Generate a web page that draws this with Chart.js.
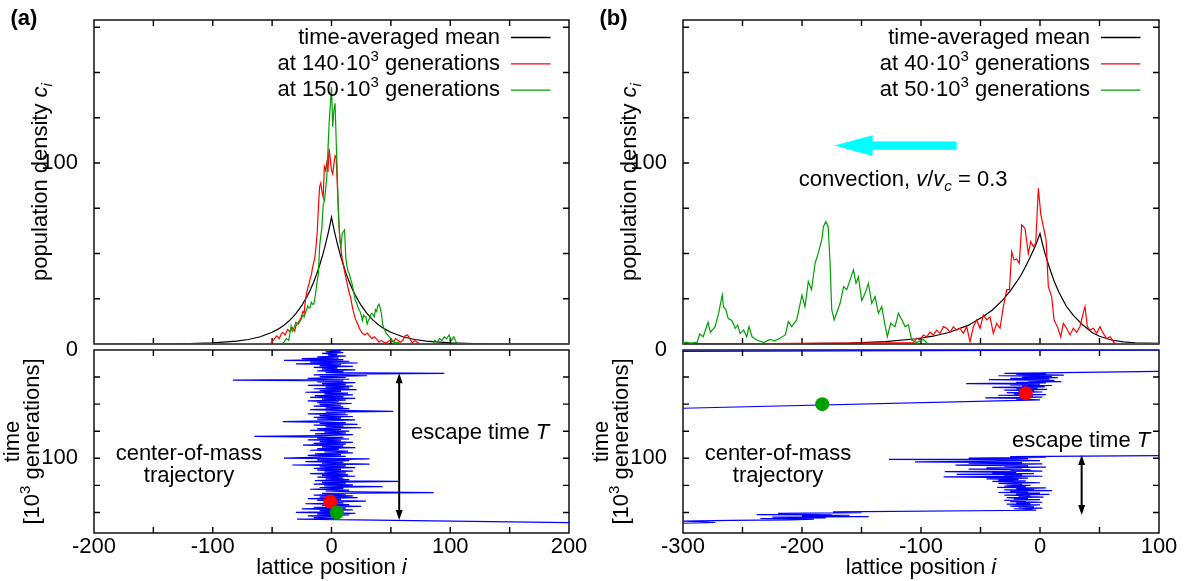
<!DOCTYPE html>
<html>
<head>
<meta charset="utf-8">
<script src="https://cdn.jsdelivr.net/npm/chart.js@4.4.0/dist/chart.umd.min.js"></script>
<style>
  body { margin: 0; background: #fff; width: 1187px; height: 581px; position: relative; overflow: hidden; }
  canvas { position: absolute; }
</style>
</head>
<body>
<canvas id="aTop" width="589" height="350" style="left:0px;top:0px"></canvas>
<canvas id="aBot" width="589" height="246" style="left:0px;top:335px"></canvas>
<canvas id="bTop" width="598" height="350" style="left:589px;top:0px"></canvas>
<canvas id="bBot" width="598" height="246" style="left:589px;top:335px"></canvas>
<script>
// ---- tick values / labels ----
const xTicksA = [-200, -150, -100, -50, 0, 50, 100, 150, 200]
const xLabelsA = [-200, -100, 0, 100, 200]
const xTicksB = [-300, -250, -200, -150, -100, -50, 0, 50, 100]
const xLabelsB = [-300, -200, -100, 0, 100]
const yTicksTop = [0, 25, 50, 75, 100, 125, 150, 175]
const yLabelsTop = [100]
const yTicksBot = [0, 25, 50, 75, 100, 125, 150]
const yLabelsBot = [0, 100]

// ---- panel (a), density profiles ----
const meanA_i = [-200, -150, -120, -100, -80, -70, -60, -50, -45, -40, -35, -30, -25, -20, -17.5, -15, -12.5, -10, -7.5, -5, -2.5, 0, 2.5, 5, 7.5, 10, 12.5, 15, 17.5, 20, 25, 30, 35, 40, 45, 50, 60, 70, 80, 100, 120, 150, 200]
const meanA_c = [0, 0.06, 0.23, 0.6, 1.6, 2.5, 4, 6.5, 8.2, 10.4, 13.2, 16.8, 21.3, 27, 30.4, 34.3, 38.6, 43.5, 49, 55.2, 62.1, 70, 62.1, 55.2, 49, 43.5, 38.6, 34.3, 30.4, 27, 21.3, 16.8, 13.2, 10.4, 8.2, 6.5, 4, 2.5, 1.6, 0.6, 0.23, 0.06, 0]

const redA_i = [-200, -52, -50, -48, -46, -44, -42, -41, -39, -37, -35, -33, -31, -30, -28, -26, -24, -23, -22, -21, -20, -19, -18, -17, -16, -15, -14, -13, -12, -11, -10, -9, -8, -7, -6, -5, -4, -3, -2, -1, 0, 1, 2, 3, 4, 5, 6, 7, 8, 9, 10, 11, 12, 13, 14, 15, 16, 18, 20, 22, 24, 26, 28, 30, 32, 34, 36, 38, 40, 42, 44, 46, 48, 50, 52, 54, 56, 58, 60, 62, 64, 66, 68, 70, 72, 75, 200]
const redA_c = [0, 0, 1, 3, 4.5, 3, 6, 6.4, 5, 8, 7, 9, 7, 10, 12, 14, 18, 17, 24, 28, 31, 33, 36, 38, 42, 45, 48, 54, 62, 76, 87, 89, 84, 81, 98, 96, 100, 95, 108, 102, 96, 94, 99, 104, 103, 86, 70, 58, 52, 47, 44, 40, 37, 34, 31, 28, 26, 19, 14, 11, 8, 6, 5, 6, 4.5, 3, 4, 2.7, 1, 2, 1, 0.5, 1.5, 2, 1, 3, 2, 1, 2, 4.5, 5, 3, 0.5, 2, 1, 0, 0]

const greenA_i = [-200, -42, -40, -38, -36, -34, -33, -32, -30, -28, -26, -24, -23, -22, -21, -20, -19, -18, -17, -16, -15, -14, -13, -12, -11, -10, -9, -8, -7, -6, -5, -4, -3, -2, -1, 0, 1, 2, 3, 4, 5, 6, 7, 8, 9, 10, 11, 12, 13, 14, 15, 16, 17, 18, 19, 20, 21, 22, 23, 24, 25, 26, 27, 28, 29, 30, 31, 32, 33, 34, 35, 36, 37, 38, 39, 40, 41, 42, 43, 44, 46, 48, 50, 52, 54, 56, 58, 85, 87, 89, 91, 93, 95, 97, 99, 101, 103, 105, 107, 200]
const greenA_c = [0, 0, 1, 3, 2, 10, 7, 8, 12, 11, 13, 16, 15, 17, 19, 21, 20, 20, 23, 22, 22, 25, 30, 35, 39, 54, 60, 65, 77, 79, 85, 92, 107, 122, 132, 142, 120, 129, 133, 111, 90, 70, 58, 54, 61, 62, 63, 48, 43, 40, 39, 36, 34, 31, 28, 24, 23, 21, 19, 18, 16, 13, 16, 15, 15, 11, 13, 14, 16, 17, 16, 15, 19, 18, 21, 22, 20, 17, 11, 9, 6, 4.5, 3, 1.5, 0.5, 1, 0, 0, 2, 1, 3, 2, 4, 3, 5, 2, 4, 1, 0, 0]

// ---- panel (b), density profiles ----
const meanB_i = [-300, -250, -200, -160, -130, -104, -90, -76, -60, -48, -40, -31, -25, -20, -16, -12, -8, -4, -2, 0, 2, 4, 8, 12, 16, 22, 28, 36, 44, 50, 60, 70, 80, 100]
const meanB_c = [0, 0.1, 0.2, 0.5, 1.3, 2.9, 4.3, 6.5, 10.4, 15, 18.8, 24.5, 29.3, 34, 38, 43, 48.3, 54, 57.5, 61, 55.5, 50.5, 42, 34.5, 28.5, 21, 15.8, 10.5, 6.2, 4.3, 2.2, 1.2, 0.7, 0.3]

const greenB_i = [-300, -298, -293, -288, -286, -283, -279, -277, -273, -270, -268, -267, -266, -264, -262, -259, -256, -254, -252, -249, -246.5, -244.5, -242, -238, -232, -227, -223, -218.5, -214, -211.5, -208.7, -204.5, -200, -197.5, -194.7, -192, -189, -186, -183.4, -182, -180, -178, -176.4, -175, -173, -171, -168, -165, -162.4, -159.6, -156.8, -154.6, -152.6, -149.8, -147, -144.2, -141.4, -138.6, -135.8, -133, -130, -128.3, -125.5, -121.8, -119, -116, -113.4, -110.6, -107.8, -103.6, -98, -94, 100]
const greenB_c = [0, 1, 0.5, 1, 5.5, 4, 12, 6.5, 9.6, 17, 24, 27, 20.6, 19, 14, 13, 8.7, 10.5, 5.9, 7.7, 4, 9.6, 4, 2.2, 0.8, 2.5, 1.8, 3.2, 5, 12.4, 9.6, 13.3, 27, 20.6, 34.5, 30, 44.6, 51, 57.5, 64.8, 67.6, 64.8, 44.6, 19, 13.3, 17, 22.5, 31.7, 30, 35.4, 41, 33.5, 37, 24, 28, 33.5, 22.5, 26.2, 17, 20.6, 9.6, 4, 11.4, 9.6, 17, 13.3, 9.6, 10.5, 2.2, 0.8, 2.5, 0, 0]

const redB_i = [-300, -106, -103.6, -100.8, -98, -95.2, -92.4, -89.6, -86.8, -84, -81.2, -78.4, -75.6, -72.8, -70, -67.2, -64.4, -61.6, -58.8, -56, -53.2, -50.4, -47.6, -44.8, -42, -39.2, -36.4, -33.6, -30.8, -28, -25.7, -23.8, -21.8, -19.6, -17.4, -15.4, -12.6, -9.8, -7.8, -5.6, -3.6, -1.4, 0.6, 2.8, 5.1, 7, 9.8, 11.8, 14.6, 17.4, 19.6, 22.4, 25.2, 28, 30.8, 33.6, 35.9, 37.8, 39.8, 42, 44.8, 47.6, 50.4, 53, 56, 59, 62, 65, 100]
const redB_c = [0, 0.8, 3.2, 2.2, 5, 4, 6.5, 5, 7.7, 5.9, 9.6, 8.7, 6.5, 9.6, 7.7, 8.7, 5.9, 9.6, 1.3, 9.6, 13.3, 8.7, 16, 13.3, 15, 5.9, 11.4, 8.7, 20.6, 30, 30, 51, 46.4, 47, 44.6, 65.8, 63.9, 50, 56.6, 53.8, 55.6, 86, 72, 64.8, 57.5, 31.7, 26.2, 13.3, 9.6, 4, 11.4, 8.7, 5, 8.7, 6.5, 9.6, 16, 20.6, 9.6, 7.7, 8.7, 5.9, 9.6, 6, 3, 4, 1, 0, 0]

// ---- center-of-mass trajectories (time in 10^3 generations) ----
const trajA_t = [0, 0.8, 1.6, 2.4, 3.2, 4, 4.8, 5.6, 6.4, 7.2, 8, 8.8, 9.6, 10.4, 11.2, 12, 12.8, 13.6, 14.4, 15.2, 16, 16.8, 17.6, 18.4, 19.2, 20, 20.8, 21.5, 22.2, 23, 23.8, 24.6, 25.4, 26.2, 27, 27.8, 28.6, 29.4, 30.2, 31, 31.8, 32.6, 33.4, 34.2, 35, 35.8, 36.6, 37.4, 38.2, 39, 39.8, 40.6, 41.4, 42.2, 43, 43.8, 44.6, 45.4, 46.2, 47, 47.8, 48.6, 49.4, 50.2, 51, 51.8, 52.6, 53.4, 54.2, 55, 55.8, 56.6, 57.4, 58.2, 59, 59.8, 60.6, 61.4, 62.2, 63, 63.8, 64.6, 65.4, 66.2, 67, 67.8, 68.6, 69.4, 70.2, 71, 71.8, 72.6, 73.4, 74.2, 75, 75.8, 76.6, 77.4, 78.2, 79, 79.8, 80.6, 81.4, 82.2, 83, 83.8, 84.6, 85.4, 86.2, 87, 87.8, 88.6, 89.4, 90.2, 91, 91.8, 92.6, 93.4, 94.2, 95, 95.8, 96.6, 97.4, 98.2, 99, 99.8, 100.6, 101.4, 102.2, 103, 103.8, 104.6, 105.4, 106.2, 107, 107.8, 108.6, 109.4, 110.2, 111, 111.8, 112.6, 113.4, 114.2, 115, 115.8, 116.6, 117.4, 118.2, 119, 119.8, 120.6, 121.4, 122.2, 123, 123.8, 124.6, 125.4, 126.2, 127, 127.8, 128.6, 129.4, 130.2, 131, 131.7, 132.4, 133.2, 134, 134.8, 135.6, 136.4, 137.2, 138, 138.8, 139.6, 140.4, 141.2, 142, 142.8, 143.6, 144.4, 145.2, 146, 146.8, 147.6, 148.4, 149.2, 150, 150.8, 151.6, 152.4, 153.2, 154, 154.8, 155.6, 156.2, 159.5]
const trajA_i = [0, 8, -5, 10, -8, 5, -3, 12, -12, 6, -25, 10, -40, 15, -18, 22, -30, 8, -10, 18, -15, 5, -8, 20, -12, 10, -5, 95, 5, -15, 30, -10, 12, -20, 15, -83, 10, -12, 20, -8, 12, -20, 18, -5, 15, -15, 21, -10, 8, -22, 14, -6, 18, -14, 10, -18, 20, -8, 12, -20, 6, -12, 17, -10, 8, -15, 10, -5, 15, -18, 5, 52, -5, 12, -20, 14, -10, 18, -15, 8, -12, 20, -8, -41, 12, -10, 22, -15, 10, -5, 25, -12, 8, -18, 15, -6, 12, -14, 18, -8, -65, 10, -12, 15, -20, 8, -10, 18, -15, 12, -24, 10, -8, 20, -12, 6, -18, 14, -6, 18, -14, 8, -20, 12, -10, -40, 32, -12, 15, -22, 10, -8, 32, -33, 12, -10, 20, -15, 8, -12, 18, -6, 12, -18, 14, -8, 20, -12, 10, -5, 15, -14, 56, -8, 12, -15, 18, -6, 43, -10, 10, -18, 15, -5, 20, 86, -8, 12, -15, 18, -10, 22, -20, 8, -12, 29, -5, 10, -22, 15, -8, 25, -15, 12, -25, 18, -10, 10, -30, 20, -12, 15, -20, 8, -15, 5, -29, 200]

const trajB0_t = [0, 1.2]
const trajB0_i = [100, -300]
const trajB1_t = [19.8, 21.5, 22, 22.6, 23.2, 23.8, 24.4, 25, 25.6, 26.2, 26.8, 27.4, 28, 28.6, 29.2, 29.8, 30.4, 31, 31.6, 32.2, 32.8, 33.4, 34, 34.6, 35.2, 35.8, 36.4, 37, 37.6, 38.2, 38.8, 39.4, 40, 40.6, 41.2, 41.8, 42.4, 43, 43.6, 44.2, 44.8, 45.4, 46, 53.8]
const trajB1_i = [100, -30, 5, -20, 20, -35, 10, -15, 15, -25, 8, -43, 12, -10, 18, -20, 5, -62, 0, -25, 10, -15, 4, -40, -2, -20, 6, -30, -5, -18, 2, -28, -8, -22, 5, -35, -6, -16, 2, -46, -10, -20, 0, -300]
const trajB2_t = [97.5, 98.5, 99.2, 99.8, 100.4, 101, 101.6, 102.2, 102.8, 103.4, 104, 104.6, 105.2, 105.8, 106.4, 107, 107.6, 108.2, 108.8, 109.4, 110, 110.6, 111.2, 111.8, 112.4, 113, 113.6, 114.2, 114.8, 115.4, 116, 116.6, 117.2, 117.8, 118.4, 119, 119.6, 120.2, 120.8, 121.4, 122, 122.6, 123.2, 123.8, 124.4, 125, 125.6, 126.2, 126.8, 127.4, 128, 128.6, 129.2, 129.8, 130.4, 131, 131.6, 132.2, 132.8, 133.4, 134, 134.6, 135.2, 135.8, 136.4, 137, 137.6, 138.2, 138.8, 139.4, 140, 140.6, 141.2, 141.8, 142.4, 143, 143.6, 144.2, 144.8, 145.4, 146, 146.6, 147.2, 148, 149.5, 150.2, 150.8, 151.4, 152, 152.6, 153.2, 153.8, 154.4, 155, 155.6, 156.2, 156.8, 157.4, 158, 158.6, 159.3, 160]
const trajB2_i = [100, -25, 5, -60, -10, -127, -20, 0, -50, -105, -15, -60, 2, -35, -71, -10, -30, 5, -45, -15, -60, -8, -25, 2, -80, -20, -40, -5, -70, -15, -30, 2, -81, -25, -10, -45, -18, -35, -12, -40, -20, 0, -35, -15, -28, -8, -30, -12, -36, 5, -20, -5, -30, 10, -25, -10, -35, 0, -20, 8, -30, -8, -18, 3, -28, -10, -22, 0, -30, -12, -25, 2, -20, -8, -28, 0, -15, -25, -5, -18, 2, -22, -10, -3, -174, -150, -220, -175, -238, -160, -200, -144, -225, -180, -235, -190, -210, -260, -300, -285, -273, -300]

// snapshot markers on the trajectories
const dotsA_i = [-1, 4.5]
const dotsA_t = [140, 150]
const dotsB_i = [-12, -183]
const dotsB_t = [40, 50]

const FONT = '"Liberation Sans", Arial, Helvetica, sans-serif'
const RED = "#ff0000"
const GREEN = "#00a000"
const BLUE = "#0000ff"
const CYAN = "#00ffff"

Chart.defaults.font.family = FONT
Chart.defaults.font.size = 22
Chart.defaults.color = "#000"

function pts(xs, ys) {
  return xs.map((x, k) => ({ x: x, y: ys[k] }))
}

function line(data, color) {
  return { data: data, borderColor: color, borderWidth: 1.2, pointRadius: 0, showLine: true, fill: false, tension: 0 }
}

function dot(x, y, color) {
  return { data: [{ x: x, y: y }], backgroundColor: color, borderWidth: 0, pointRadius: 7, showLine: false }
}

function setFont(ctx, size, italic, bold) {
  ctx.font = (italic ? "italic " : "") + (bold ? "bold " : "") + size + "px " + FONT
}

// parts: "text" or ["text", flags]; flags: i = italic, s = subscript, u = superscript
function rich(ctx, parts, x, y, align) {
  const pieces = parts.map((p) => {
    const t = typeof p === "string" ? p : p[0]
    const f = typeof p === "string" ? "" : p[1]
    const size = f.includes("s") || f.includes("u") ? 15 : 22
    setFont(ctx, size, f.includes("i"))
    return { t: t, f: f, size: size, w: ctx.measureText(t).width }
  })
  const total = pieces.reduce((s, p) => s + p.w, 0)
  let cx = align === "center" ? x - total / 2 : align === "right" ? x - total : x
  ctx.fillStyle = "#000"
  ctx.textAlign = "left"
  ctx.textBaseline = "alphabetic"
  pieces.forEach((p) => {
    setFont(ctx, p.size, p.f.includes("i"))
    const dy = p.f.includes("s") ? 5 : p.f.includes("u") ? -9 : 0
    ctx.fillText(p.t, cx, y + dy)
    cx += p.w
  })
}

function rotated(ctx, cx, cy, draw) {
  ctx.save()
  ctx.translate(cx, cy)
  ctx.rotate(-Math.PI / 2)
  draw()
  ctx.restore()
}

function legend(ctx, a, rows) {
  rows.forEach((r, k) => {
    const base = a.top + 23.5 + k * 26.3
    rich(ctx, r.parts, a.right - 69, base, "right")
    ctx.strokeStyle = r.color
    ctx.lineWidth = 1.3
    ctx.beginPath()
    ctx.moveTo(a.right - 58, base - 6)
    ctx.lineTo(a.right - 18.5, base - 6)
    ctx.stroke()
  })
}

function doubleArrow(ctx, x, y0, y1) {
  ctx.strokeStyle = "#000"
  ctx.fillStyle = "#000"
  ctx.lineWidth = 2
  ctx.beginPath()
  ctx.moveTo(x, y0 + 6)
  ctx.lineTo(x, y1 - 6)
  ctx.stroke()
  ctx.beginPath()
  ctx.moveTo(x, y0)
  ctx.lineTo(x - 3.5, y0 + 10)
  ctx.lineTo(x + 3.5, y0 + 10)
  ctx.closePath()
  ctx.moveTo(x, y1)
  ctx.lineTo(x - 3.5, y1 - 10)
  ctx.lineTo(x + 3.5, y1 - 10)
  ctx.closePath()
  ctx.fill()
}

// gnuplot-like frame with inward ticks on all sides, plus annotations
function decor(xTicks, yTicks, extras) {
  return {
    id: "decor",
    beforeDatasetsDraw(chart) {
      const { ctx, chartArea: a, scales } = chart
      ctx.save()
      ctx.strokeStyle = "#000"
      ctx.lineWidth = 1.4
      ctx.beginPath()
      xTicks.forEach((v) => {
        const px = scales.x.getPixelForValue(v)
        if (px <= a.left + 1 || px >= a.right - 1) return
        ctx.moveTo(px, a.bottom)
        ctx.lineTo(px, a.bottom - 6)
        ctx.moveTo(px, a.top)
        ctx.lineTo(px, a.top + 6)
      })
      yTicks.forEach((v) => {
        const py = scales.y.getPixelForValue(v)
        if (py <= a.top + 1 || py >= a.bottom - 1) return
        ctx.moveTo(a.left, py)
        ctx.lineTo(a.left + 6, py)
        ctx.moveTo(a.right, py)
        ctx.lineTo(a.right - 6, py)
      })
      ctx.stroke()
      ctx.strokeRect(a.left, a.top, a.right - a.left, a.bottom - a.top)
      ctx.restore()
    },
    afterDraw(chart) {
      chart.ctx.save()
      extras(chart.ctx, chart.chartArea, chart.scales)
      chart.ctx.restore()
    },
  }
}

function axisX(min, max, ticks, labels, shown) {
  return {
    type: "linear",
    min: min,
    max: max,
    display: shown,
    grid: { display: false },
    border: { display: false },
    afterBuildTicks: (s) => { s.ticks = ticks.map((v) => ({ value: v })) },
    ticks: {
      autoSkip: false,
      maxRotation: 0,
      padding: -7,
      color: "#000",
      font: { size: 22 },
      callback: (v) => (labels.includes(v) ? String(v) : ""),
    },
    afterFit: (s) => {
      s.height = shown ? 48 : 0
      s.paddingLeft = 0
      s.paddingRight = 0
    },
  }
}

function axisY(max, reverse, ticks, labels) {
  return {
    type: "linear",
    min: 0,
    max: max,
    reverse: reverse,
    grid: { display: false },
    border: { display: false },
    afterBuildTicks: (s) => { s.ticks = ticks.map((v) => ({ value: v })) },
    ticks: {
      autoSkip: false,
      padding: 8,
      color: "#000",
      font: { size: 22 },
      callback: (v) => (labels.includes(v) ? String(v) : ""),
    },
    afterFit: (s) => {
      s.width = 94
      s.paddingTop = 0
      s.paddingBottom = 0
    },
  }
}

function options(padding, x, y) {
  return {
    responsive: false,
    animation: false,
    devicePixelRatio: 1,
    events: [],
    layout: { padding: padding },
    plugins: { legend: { display: false }, tooltip: { enabled: false } },
    scales: { x: x, y: y },
  }
}

function topLabels(ctx, a, tag, rows) {
  setFont(ctx, 22, false, true)
  ctx.fillStyle = "#000"
  ctx.textAlign = "left"
  ctx.textBaseline = "alphabetic"
  ctx.fillText(tag, 10.5, 24.5)
  rotated(ctx, 46.5, (a.top + a.bottom) / 2, () => {
    rich(ctx, ["population density ", ["c", "i"], ["i", "is"]], 0, 0, "center")
  })
  legend(ctx, a, rows)
}

function bottomLabels(ctx, a, escX, escY, arrowX, arrowY0, arrowY1) {
  rotated(ctx, 0, (a.top + a.bottom) / 2, () => {
    rich(ctx, ["time"], 0, 18.5, "center")
    rich(ctx, ["[10", ["3", "u"], " generations]"], 0, 39, "center")
  })
  rich(ctx, ["lattice position ", ["i", "i"]], (a.left + a.right) / 2, a.bottom + 41, "center")
  rich(ctx, ["center-of-mass"], a.left + 95, a.top + 110, "center")
  rich(ctx, ["trajectory"], a.left + 95, a.top + 132, "center")
  rich(ctx, ["escape time ", ["T", "i"]], escX, escY, "left")
  doubleArrow(ctx, arrowX, arrowY0, arrowY1)
}

// ---------- panel (a) top ----------
new Chart(document.getElementById("aTop"), {
  type: "scatter",
  data: {
    datasets: [
      line(pts(greenA_i, greenA_c), GREEN),
      line(pts(redA_i, redA_c), RED),
      line(pts(meanA_i, meanA_c), "#000"),
    ],
  },
  options: options({ left: 0, right: 20, top: 20, bottom: 6 },
    axisX(-200, 200, xTicksA, [], false),
    axisY(179, false, yTicksTop, yLabelsTop)),
  plugins: [decor(xTicksA, yTicksTop, (ctx, a) => {
    topLabels(ctx, a, "(a)", [
      { parts: ["time-averaged mean"], color: "#000" },
      { parts: ["at 140·10", ["3", "u"], " generations"], color: RED },
      { parts: ["at 150·10", ["3", "u"], " generations"], color: GREEN },
    ])
  })],
})

// ---------- panel (a) bottom ----------
new Chart(document.getElementById("aBot"), {
  type: "scatter",
  data: {
    datasets: [
      dot(dotsA_i[1], dotsA_t[1], GREEN),
      dot(dotsA_i[0], dotsA_t[0], RED),
      line(pts(trajA_i, trajA_t), BLUE),
    ],
  },
  options: options({ left: 0, right: 20, top: 15, bottom: 0 },
    axisX(-200, 200, xTicksA, xLabelsA, true),
    axisY(169, true, yTicksBot, yLabelsBot)),
  plugins: [decor(xTicksA, yTicksBot, (ctx, a, s) => {
    bottomLabels(ctx, a, a.left + 317, a.top + 89,
      s.x.getPixelForValue(57), s.y.getPixelForValue(21.5), s.y.getPixelForValue(157))
  })],
})

// ---------- panel (b) top ----------
new Chart(document.getElementById("bTop"), {
  type: "scatter",
  data: {
    datasets: [
      line(pts(greenB_i, greenB_c), GREEN),
      line(pts(redB_i, redB_c), RED),
      line(pts(meanB_i, meanB_c), "#000"),
    ],
  },
  options: options({ left: 0, right: 28, top: 20, bottom: 6 },
    axisX(-300, 100, xTicksB, [], false),
    axisY(179, false, yTicksTop, yLabelsTop)),
  plugins: [decor(xTicksB, yTicksTop, (ctx, a, s) => {
    topLabels(ctx, a, "(b)", [
      { parts: ["time-averaged mean"], color: "#000" },
      { parts: ["at 40·10", ["3", "u"], " generations"], color: RED },
      { parts: ["at 50·10", ["3", "u"], " generations"], color: GREEN },
    ])
    // convection arrow
    const tip = s.x.getPixelForValue(-172.7)
    const back = s.x.getPixelForValue(-140.6)
    const tail = s.x.getPixelForValue(-70)
    const yc = s.y.getPixelForValue(109.6)
    ctx.fillStyle = CYAN
    ctx.fillRect(back - 1, yc - 4.2, tail - back + 1, 8.4)
    ctx.beginPath()
    ctx.moveTo(tip, yc)
    ctx.lineTo(back, yc - 10.3)
    ctx.lineTo(back, yc + 10.3)
    ctx.closePath()
    ctx.fill()
    rich(ctx, ["convection, ", ["v", "i"], "/", ["v", "i"], ["c", "is"], " = 0.3"],
      s.x.getPixelForValue(-115), a.top + 166, "center")
  })],
})

// ---------- panel (b) bottom ----------
new Chart(document.getElementById("bBot"), {
  type: "scatter",
  data: {
    datasets: [
      dot(dotsB_i[0], dotsB_t[0], RED),
      dot(dotsB_i[1], dotsB_t[1], GREEN),
      line(pts(trajB0_i, trajB0_t), BLUE),
      line(pts(trajB1_i, trajB1_t), BLUE),
      line(pts(trajB2_i, trajB2_t), BLUE),
    ],
  },
  options: options({ left: 0, right: 28, top: 15, bottom: 0 },
    axisX(-300, 100, xTicksB, xLabelsB, true),
    axisY(169, true, yTicksBot, yLabelsBot)),
  plugins: [decor(xTicksB, yTicksBot, (ctx, a, s) => {
    bottomLabels(ctx, a, a.left + 329, a.top + 97,
      s.x.getPixelForValue(35), s.y.getPixelForValue(97), s.y.getPixelForValue(152.4))
  })],
})
</script>
</body>
</html>
